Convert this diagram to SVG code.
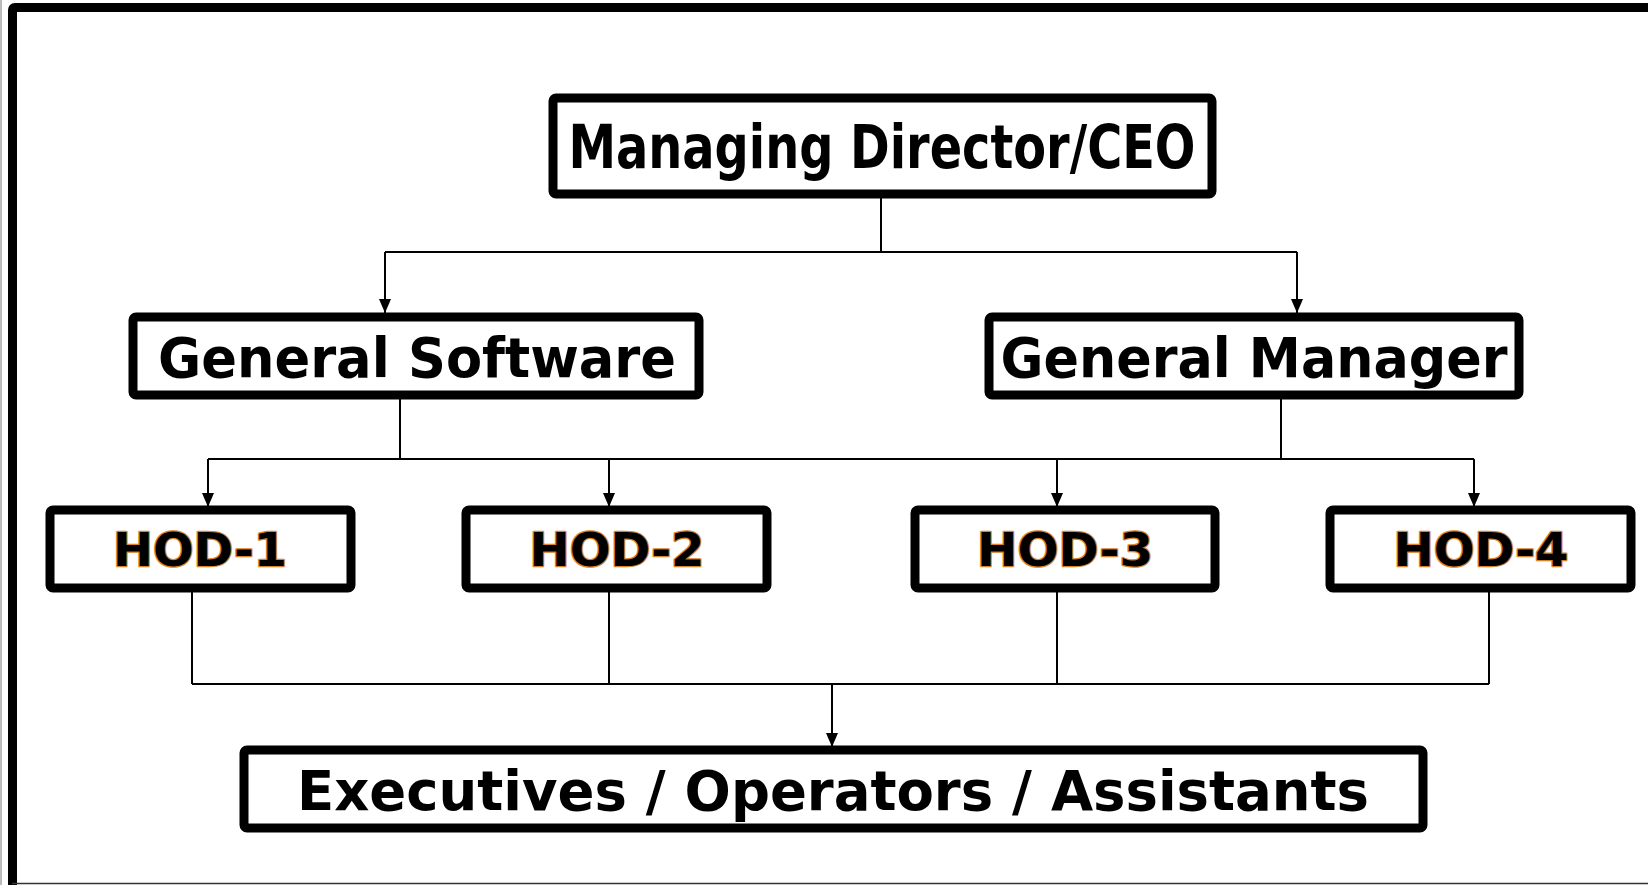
<svg xmlns="http://www.w3.org/2000/svg" width="1648" height="885" viewBox="0 0 1648 885">
  <defs>
    <style>
      .box { fill: #ffffff; stroke: #000000; stroke-width: 9; }
      .lbl { font-family: "DejaVu Sans", Verdana, sans-serif; font-weight: bold; fill: #000000; text-anchor: middle; }
      .cond { font-stretch: condensed; }
      .hod { stroke: #d9822b; stroke-width: 2.5; paint-order: stroke; stroke-linejoin: round; }
      .wire { fill: none; stroke: #000000; stroke-width: 2; }
    </style>
    <!-- arrowhead drawn along +x, rotated to follow each line -->
    <marker id="arrow" viewBox="0 0 14 12" refX="14" refY="6" markerWidth="14" markerHeight="12" markerUnits="userSpaceOnUse" orient="auto">
      <path d="M0,0 L14,6 L0,12 Z" fill="#000000"/>
    </marker>
  </defs>

  <rect width="1648" height="885" fill="#ffffff"/>

  <!-- page frame -->
  <g id="frame">
    <line x1="1" y1="0" x2="1" y2="885" stroke="#bbbbbb" stroke-width="2"/>
    <path d="M12.5,885 V10 Q12.5,7.5 15,7.5 H1660" fill="none" stroke="#000000" stroke-width="9"/>
    <line x1="12" y1="883.5" x2="1648" y2="883.5" stroke="#333333" stroke-width="1.5"/>
  </g>

  <!-- connectors -->
  <g id="connectors">
    <path class="wire" d="M881,197 V252 M385,252 H1297"/>
    <path class="wire" d="M385,252 V313" marker-end="url(#arrow)"/>
    <path class="wire" d="M1297,252 V313" marker-end="url(#arrow)"/>

    <path class="wire" d="M400,398 V459 M1281,398 V459 M208,459 H1474"/>
    <path class="wire" d="M208,459 V507" marker-end="url(#arrow)"/>
    <path class="wire" d="M609,459 V507" marker-end="url(#arrow)"/>
    <path class="wire" d="M1057,459 V507" marker-end="url(#arrow)"/>
    <path class="wire" d="M1474,459 V507" marker-end="url(#arrow)"/>

    <path class="wire" d="M192,591 V684 M609,591 V684 M1057,591 V684 M1489,591 V684 M192,684 H1489"/>
    <path class="wire" d="M832,684 V747" marker-end="url(#arrow)"/>
  </g>

  <g id="ceo">
    <rect class="box" x="553" y="98" width="659" height="96" rx="3"/>
    <text class="lbl cond" x="882" y="168" font-size="60" textLength="627" lengthAdjust="spacingAndGlyphs">Managing Director/CEO</text>
  </g>

  <g id="general-software">
    <rect class="box" x="133" y="317" width="566" height="78" rx="3"/>
    <text class="lbl cond" x="417" y="377" font-size="56" textLength="518" lengthAdjust="spacingAndGlyphs">General Software</text>
  </g>

  <g id="general-manager">
    <rect class="box" x="989" y="317" width="530" height="78" rx="3"/>
    <text class="lbl cond" x="1254" y="377" font-size="56" textLength="507" lengthAdjust="spacingAndGlyphs">General Manager</text>
  </g>

  <g id="hod-1">
    <rect class="box" x="50" y="510" width="301" height="78" rx="3"/>
    <text class="lbl hod" x="200" y="566" font-size="47" textLength="174" lengthAdjust="spacingAndGlyphs">HOD-1</text>
  </g>

  <g id="hod-2">
    <rect class="box" x="466" y="510" width="301" height="78" rx="3"/>
    <text class="lbl hod" x="617" y="566" font-size="47" textLength="175" lengthAdjust="spacingAndGlyphs">HOD-2</text>
  </g>

  <g id="hod-3">
    <rect class="box" x="915" y="510" width="300" height="78" rx="3"/>
    <text class="lbl hod" x="1065" y="566" font-size="47" textLength="176" lengthAdjust="spacingAndGlyphs">HOD-3</text>
  </g>

  <g id="hod-4">
    <rect class="box" x="1330" y="510" width="301" height="78" rx="3"/>
    <text class="lbl hod" x="1481" y="566" font-size="47" textLength="175" lengthAdjust="spacingAndGlyphs">HOD-4</text>
  </g>

  <g id="staff">
    <rect class="box" x="244" y="750" width="1179" height="78" rx="3"/>
    <text class="lbl cond" x="833" y="810" font-size="55" textLength="1072" lengthAdjust="spacingAndGlyphs">Executives / Operators / Assistants</text>
  </g>
</svg>
